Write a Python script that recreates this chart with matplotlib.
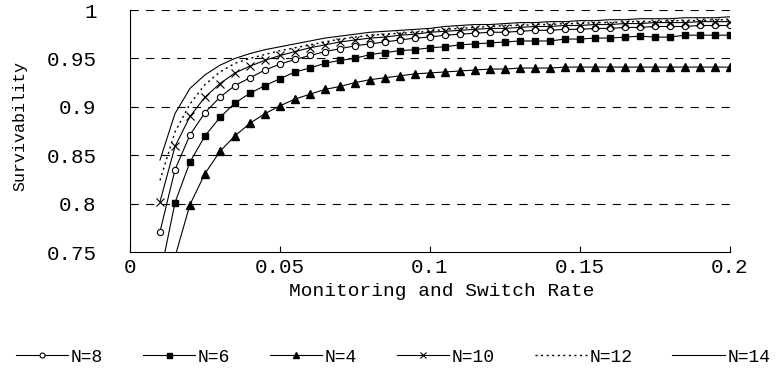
import numpy as np
import matplotlib
matplotlib.use("Agg")
import matplotlib.pyplot as plt

plt.rcParams['font.family'] = ['Liberation Mono', 'DejaVu Sans Mono']

# monitoring and switch rate (x axis)
rate = np.round(np.arange(0.01, 0.2001, 0.005), 3)

# survivability, one list per N
surv_n8 = [0.771, 0.835, 0.871, 0.894, 0.910, 0.922, 0.930, 0.938, 0.944, 0.949,
           0.953, 0.957, 0.960, 0.963, 0.965, 0.967, 0.969, 0.971, 0.972, 0.974,
           0.975, 0.976, 0.977, 0.977, 0.978, 0.979, 0.979, 0.980, 0.980, 0.981,
           0.981, 0.982, 0.982, 0.983, 0.983, 0.983, 0.984, 0.984, 0.984]
surv_n6 = [0.725, 0.801, 0.843, 0.870, 0.889, 0.904, 0.914, 0.922, 0.929, 0.936,
           0.940, 0.945, 0.948, 0.950, 0.954, 0.956, 0.958, 0.959, 0.961, 0.962,
           0.964, 0.965, 0.966, 0.967, 0.968, 0.968, 0.968, 0.970, 0.970, 0.971,
           0.971, 0.972, 0.973, 0.972, 0.972, 0.974, 0.974, 0.974, 0.974]
surv_n4 = [0.660, 0.745, 0.799, 0.831, 0.854, 0.870, 0.883, 0.893, 0.901, 0.908,
           0.913, 0.918, 0.921, 0.925, 0.928, 0.930, 0.932, 0.934, 0.935, 0.936,
           0.937, 0.938, 0.939, 0.939, 0.940, 0.940, 0.940, 0.941, 0.941, 0.941,
           0.941, 0.941, 0.941, 0.941, 0.941, 0.941, 0.941, 0.941, 0.941]
surv_n10 = [0.802, 0.859, 0.890, 0.910, 0.924, 0.935, 0.942, 0.948, 0.953, 0.957,
            0.961, 0.964, 0.967, 0.969, 0.971, 0.972, 0.974, 0.975, 0.977, 0.978,
            0.979, 0.980, 0.981, 0.981, 0.982, 0.983, 0.983, 0.984, 0.984, 0.985,
            0.985, 0.986, 0.986, 0.987, 0.987, 0.987, 0.988, 0.988, 0.988]
surv_n12 = [0.824, 0.874, 0.903, 0.923, 0.936, 0.945, 0.950, 0.954, 0.958, 0.961,
            0.964, 0.967, 0.970, 0.972, 0.974, 0.975, 0.976, 0.977, 0.978, 0.980,
            0.981, 0.982, 0.983, 0.984, 0.984, 0.985, 0.985, 0.986, 0.986, 0.987,
            0.987, 0.988, 0.988, 0.988, 0.989, 0.989, 0.989, 0.990, 0.990]
surv_n14 = [0.845, 0.893, 0.919, 0.933, 0.943, 0.950, 0.955, 0.959, 0.962, 0.965,
            0.968, 0.971, 0.973, 0.975, 0.977, 0.978, 0.979, 0.980, 0.981, 0.983,
            0.984, 0.985, 0.985, 0.986, 0.987, 0.987, 0.988, 0.988, 0.989, 0.989,
            0.990, 0.990, 0.991, 0.991, 0.991, 0.992, 0.992, 0.992, 0.993]

xticks = [0, 0.05, 0.1, 0.15, 0.2]
xtick_labels = ["0", "0.05", "0.1", "0.15", "0.2"]
yticks = [0.75, 0.8, 0.85, 0.9, 0.95, 1]
ytick_labels = ["0.75", "0.8", "0.85", "0.9", "0.95", "1"]

fig = plt.figure(figsize=(7.77, 3.78), dpi=100)
ax = fig.add_axes([130 / 777, 1 - 252 / 378, 600 / 777, 242 / 378])

lw = 0.8
ax.plot(rate, surv_n8, color='black', lw=lw, marker='o', ms=4.5,
        mfc='white', mec='black', mew=0.8, label='N=8')
ax.plot(rate, surv_n6, color='black', lw=lw, marker='s', ms=4.5,
        mfc='black', mec='black', label='N=6')
ax.plot(rate, surv_n4, color='black', lw=lw, marker='^', ms=5.5,
        mfc='black', mec='black', label='N=4')
ax.plot(rate, surv_n10, color='black', lw=lw, marker='x', ms=6,
        mew=0.8, label='N=10')
ax.plot(rate, surv_n12, color='black', lw=1.0, linestyle=(0, (1.5, 2.5)),
        label='N=12')
ax.plot(rate, surv_n14, color='black', lw=lw, label='N=14')

ax.set_xlim(0, 0.2)
ax.set_ylim(0.75, 1)
ax.set_xticks(xticks)
ax.set_xticklabels(xtick_labels)
ax.set_yticks(yticks)
ax.set_yticklabels(ytick_labels)

# dashed horizontal grid only
for y in yticks[1:]:
    ax.axhline(y, color='black', lw=0.8, linestyle=(0, (7.5, 6.5)), zorder=0)

for side in ['top', 'right']:
    ax.spines[side].set_visible(False)
for side in ['left', 'bottom']:
    ax.spines[side].set_linewidth(0.8)

ax.tick_params(axis='x', direction='in', length=4, width=0.8, pad=4, labelsize=15)
ax.tick_params(axis='y', length=0, pad=24, labelsize=15)

fig.text(442 / 777, 1 - 291 / 378, 'Monitoring and Switch Rate',
         ha='center', va='center', fontsize=14)
fig.text(20 / 777, 1 - 126 / 378, 'Survivability', rotation=90,
         ha='center', va='center', fontsize=12)

fig.legend(loc='center', bbox_to_anchor=(0.506, 1 - 357 / 378), ncol=6,
           frameon=False, fontsize=13, handlelength=2.9, handletextpad=0.15,
           columnspacing=2.2, markerscale=0.8)

fig.savefig('out.png', dpi=100)
